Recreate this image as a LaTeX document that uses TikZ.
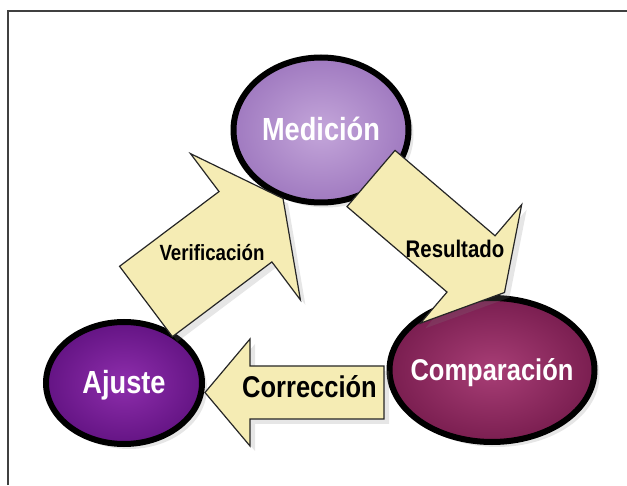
\documentclass[tikz,border=0pt]{standalone}
\usepackage{fontspec}
\newfontfamily\lblfont{Liberation Sans}[FakeStretch=0.85]
\usetikzlibrary{calc,shapes.geometric,shadows}
\definecolor{arrowyellow}{RGB}{245,236,180}
\definecolor{medin}{RGB}{196,166,218}
\definecolor{medout}{RGB}{160,122,192}
\definecolor{cmpin}{RGB}{168,62,118}
\definecolor{cmpout}{RGB}{122,30,80}
\definecolor{ajuin}{RGB}{142,46,172}
\definecolor{ajuout}{RGB}{100,20,132}
\tikzset{
  phase/.style={ellipse, draw=black, line width=6pt, inner sep=0pt, shade,
    text=white, text height=22pt, text depth=0pt,
    drop shadow={opacity=0.2, shadow xshift=5pt, shadow yshift=-5pt}},
  arrowbody/.style={draw=black!85, line width=1.2pt, fill=arrowyellow, line join=miter,
    drop shadow={opacity=0.2, shadow xshift=5pt, shadow yshift=-5pt}},
  arrowlabel/.style={anchor=base, inner sep=0pt}
}
% block arrow: tail, tip, shaft half width, head half width, head length
\newcommand\blockarrow[5]{%
  \draw[arrowbody] ($(#1)!#3!90:(#2)$) -- ($(#2)!#5!(#1)!#3!-90:(#1)$)
    -- ($(#2)!#5!(#1)!#4!-90:(#1)$) -- (#2)
    -- ($(#2)!#5!(#1)!#4!90:(#1)$) -- ($(#2)!#5!(#1)!#3!90:(#1)$)
    -- ($(#1)!#3!-90:(#2)$) -- cycle;}

\begin{document}
\begin{tikzpicture}[x=1pt,y=1pt]
  \useasboundingbox (0,0) rectangle (627,485);
  \draw[line width=2pt, black!75] (7.5,0) -- (7.5,474) -- (627,474);

  % phases
  \node[phase, inner color=medin, outer color=medout, minimum width=175pt, minimum height=145pt,
    font=\lblfont\bfseries\fontsize{32}{32}\selectfont] (med) at (321,355) {Medición};
  \node[phase, inner color=cmpin, outer color=cmpout, minimum width=205pt, minimum height=144pt,
    inner xsep=-10pt, font=\lblfont\bfseries\fontsize{30}{30}\selectfont] (cmp) at (492,115) {Comparación};
  \node[phase, inner color=ajuin, outer color=ajuout, minimum width=156pt, minimum height=122pt,
    font=\lblfont\bfseries\fontsize{32}{32}\selectfont] (aju) at (124,102) {Ajuste};

  % arrow ends
  \coordinate (verTail) at (146,183.5);
  \coordinate (resTail) at (371,306.5);
  \coordinate (resTip) at (504.5,192.5);
  \coordinate (corTail) at (384,92.5);
  \coordinate (corTip) at (205,92.5);

  \blockarrow{verTail}{med.241}{44pt}{91.5pt}{47pt}
  \blockarrow{resTail}{resTip}{37pt}{78pt}{44pt}
  \blockarrow{corTail}{corTip}{26.5pt}{53.5pt}{45pt}

  \node[arrowlabel, font=\lblfont\bfseries\fontsize{22}{22}\selectfont] (ver) at (212,224.3) {Verificación};
  \node[arrowlabel, font=\lblfont\bfseries\fontsize{24}{24}\selectfont] (res) at (455,227.7) {Resultado};
  \node[arrowlabel, font=\lblfont\bfseries\fontsize{30}{30}\selectfont] (cor) at (309.5,87) {Corrección};
\end{tikzpicture}
\end{document}
